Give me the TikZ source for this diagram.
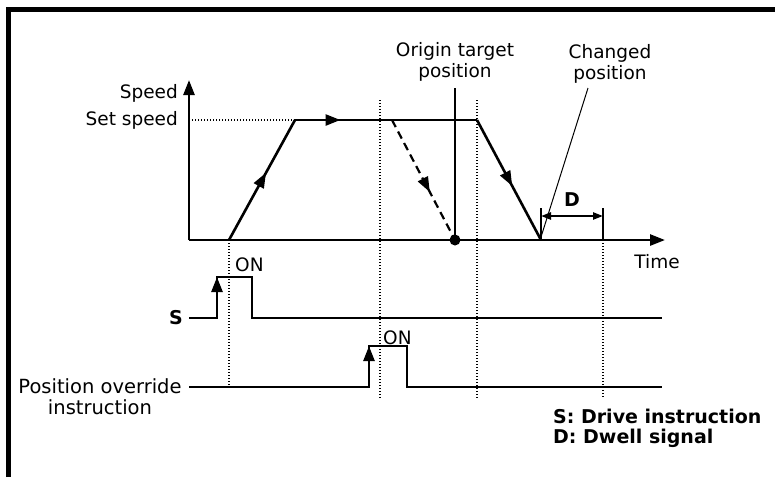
\documentclass[tikz,border=0pt]{standalone}
\usepackage{fontspec}
\setmainfont{DejaVu Sans}
\usetikzlibrary{arrows.meta,decorations.markings}
\tikzset{
  curve/.style={line width=2.6pt, line join=miter},
  dotline/.style={line width=1.8pt, dash pattern=on 1.4pt off 1.6pt},
  dashline/.style={line width=2.2pt, dash pattern=on 8pt off 5pt},
  midarrow/.style={postaction={decorate}, decoration={markings, mark=at position #1 with {\arrow{Triangle[length=15pt,width=11pt]}}}},
  tipend/.style={-{Triangle[length=15pt,width=11pt]}},
  dimarrow/.style={line width=2.2pt, {Triangle[length=10pt,width=7pt]}-{Triangle[length=10pt,width=7pt]}},
  lbl/.style={inner sep=0pt, font=\fontsize{18.5}{21}\selectfont},
  blbl/.style={inner sep=0pt, font=\fontsize{19}{22}\selectfont\bfseries},
  leader/.style={line width=1.3pt},
}
\begin{document}
\begin{tikzpicture}[x=1pt,y=-1pt]
\useasboundingbox (0,0) rectangle (775,477);
% frame
\coordinate (fb) at (8.5,477);
\coordinate (fc) at (8.5,9.5);
\coordinate (fr) at (775,9.5);
\draw[line width=5pt] (fb) -- (fc) -- (fr);

% key points
\coordinate (O) at (189,240);
\coordinate (Ytop) at (189,80);
\coordinate (Xend) at (665,240);
\coordinate (A) at (229,240);
\coordinate (B) at (295,120);
\coordinate (C) at (477,120);
\coordinate (E) at (541,240);
\coordinate (Ds) at (392,120);
\coordinate (Sy) at (189,120);
\node[circle, fill, inner sep=0pt, minimum size=11pt] (dot) at (455,240) {};

% axes
\draw[curve, tipend] (O) -- (Ytop);
\draw[curve, tipend] (O) -- (Xend);
\node[lbl, anchor=east] (speed) at (178,93) {Speed};
\node[lbl, anchor=east] (setspeed) at (178,120) {Set speed};
\node[lbl] (time) at (657,262) {Time};

% speed profile
\draw[dotline] (Sy) -- (B);
\draw[curve, midarrow=0.56] (A) -- (B);
\draw[curve, midarrow=0.25] (B) -- (C);
\draw[curve, midarrow=0.55] (C) -- (E);
\draw[dashline, midarrow=0.6] (Ds) -- (dot.center);

% origin target position
\coordinate (otop) at (455,88);
\draw[leader] (dot.center) -- (otop);
\node[lbl, align=center] (origin) at (455,62) {Origin target\\position};

% changed position
\coordinate (ctop) at (588,88);
\coordinate (cbot) at (541,237);
\draw[line width=1pt] (cbot) -- (ctop);
\node[lbl, align=center] (changed) at (610,64) {Changed\\position};

% dwell D
\coordinate (d1t) at (541,208);
\coordinate (d2t) at (603,208);
\coordinate (d2b) at (603,240);
\coordinate (da) at (541,216);
\coordinate (db) at (603,216);
\draw[line width=2.2pt] (d1t) -- (E);
\draw[line width=2.2pt] (d2t) -- (d2b);
\draw[dimarrow] (da) -- (db);
\node[blbl] (dlabel) at (572,200) {D};

% dotted verticals
\coordinate (v1b) at (229,387);
\coordinate (v2t) at (380,100);
\coordinate (v2b) at (380,398);
\coordinate (v3t) at (477,100);
\coordinate (v3b) at (477,398);
\coordinate (v4b) at (603,397);
\draw[dotline] (A) -- (v1b);
\draw[dotline] (v2t) -- (v2b);
\draw[dotline] (v3t) -- (v3b);
\draw[dotline] (d2b) -- (v4b);

% S signal
\coordinate (s0) at (189,318);
\coordinate (s1) at (217,318);
\coordinate (s2) at (217,277);
\coordinate (s3) at (252,277);
\coordinate (s4) at (252,318);
\coordinate (s5) at (662,318);
\draw[curve] (s0) -- (s1) -- (s2) -- (s3) -- (s4) -- (s5);
\draw[curve, tipend] (s1) -- (s2);
\node[blbl, anchor=east] (slabel) at (183,318) {S};
\node[lbl, anchor=west] (on1) at (235,265) {ON};

% position override signal
\coordinate (p0) at (189,387);
\coordinate (p1) at (369,387);
\coordinate (p2) at (369,346);
\coordinate (p3) at (407,346);
\coordinate (p4) at (407,387);
\coordinate (p5) at (662,387);
\draw[curve] (p0) -- (p1) -- (p2) -- (p3) -- (p4) -- (p5);
\draw[curve, tipend] (p1) -- (p2);
\node[lbl, align=center, font=\fontsize{19.5}{21}\selectfont] (plabel) at (100,397) {Position override\\instruction};
\node[lbl, anchor=west] (on2) at (383,338) {ON};

% legend
\node[blbl, anchor=west] (leg1) at (553,416) {S: Drive instruction};
\node[blbl, anchor=west] (leg2) at (553,438) {D: Dwell signal};
\end{tikzpicture}
\end{document}
